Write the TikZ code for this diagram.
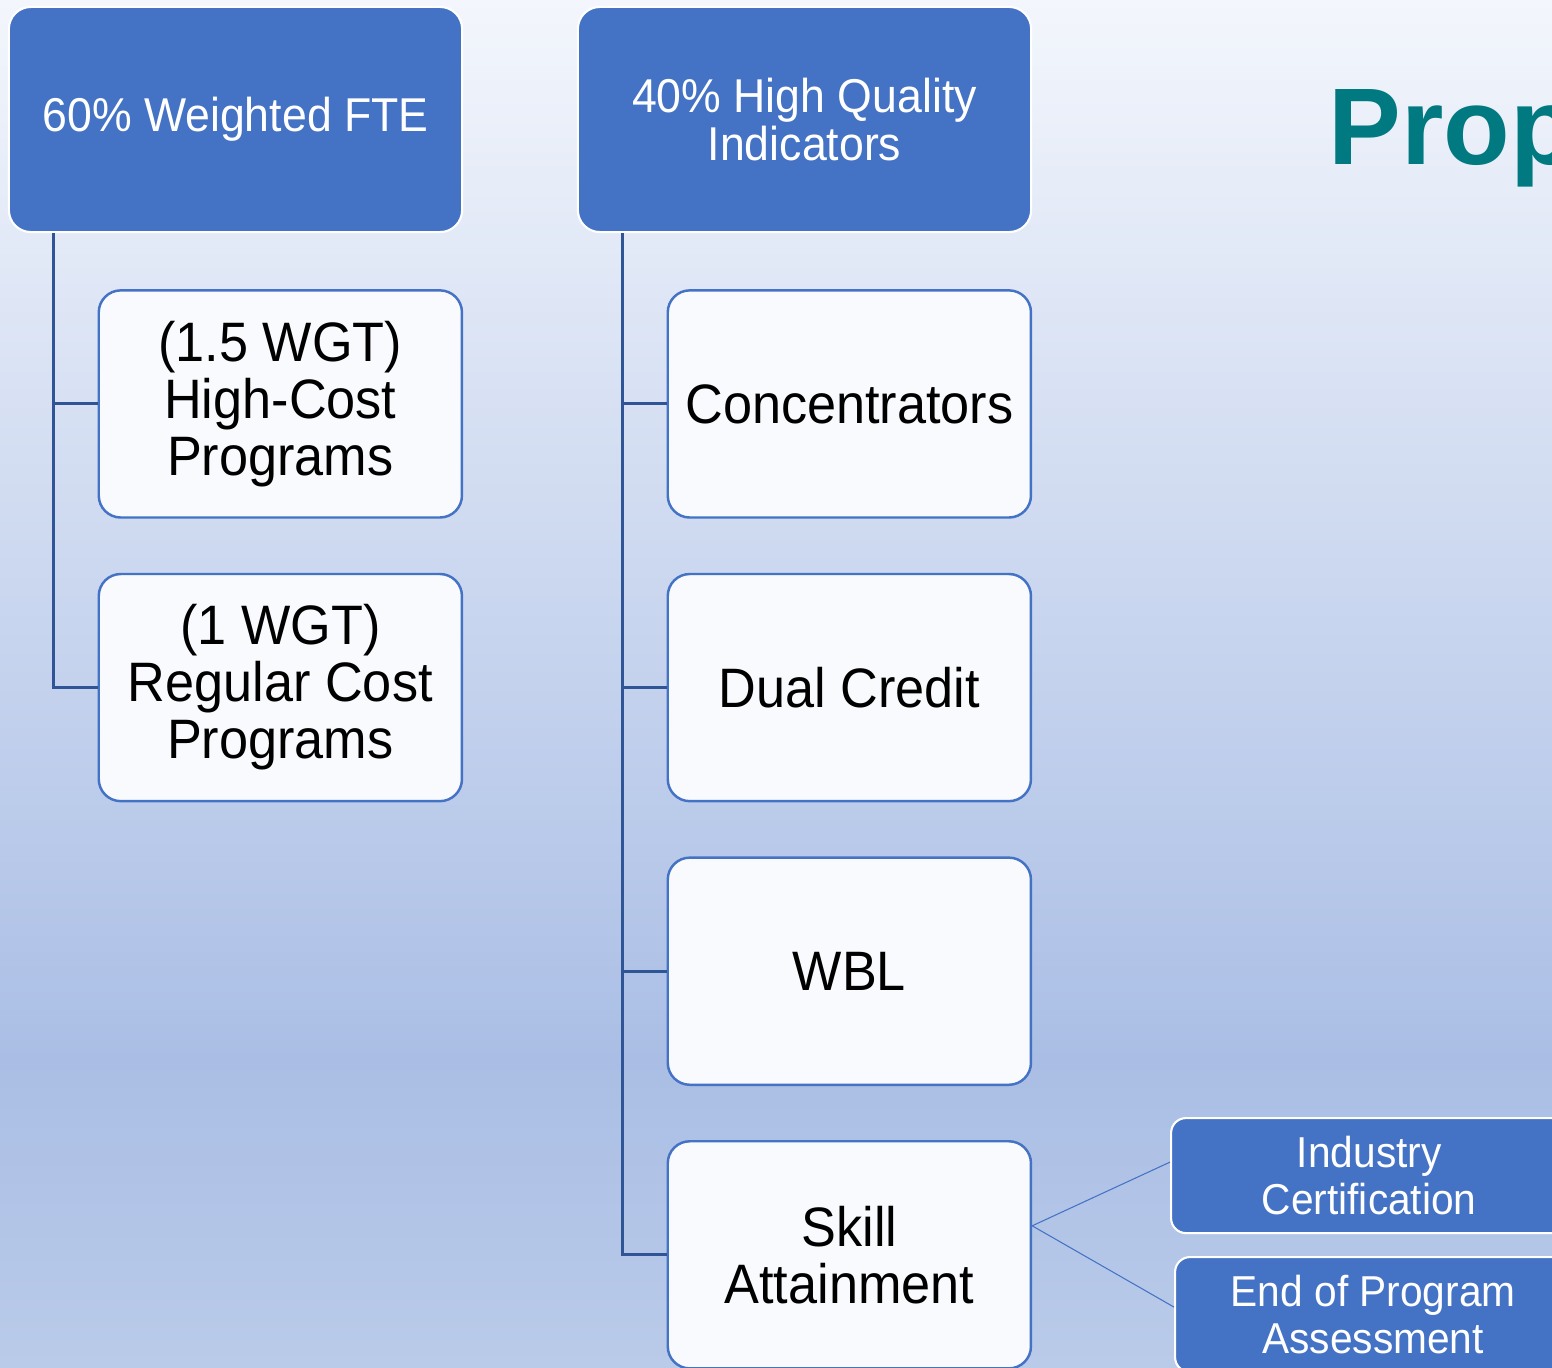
\documentclass[tikz,border=0pt]{standalone}
\usepackage{fontspec}
\setmainfont[FakeStretch=0.94]{Liberation Sans}
\newfontfamily\titlefont{Liberation Sans}
\usepackage{tikz}
\usetikzlibrary{positioning}

\definecolor{boxblue}{RGB}{68,114,196}
\definecolor{linkblue}{RGB}{47,85,151}
\definecolor{paleblue}{RGB}{248,250,253}
\definecolor{titleteal}{RGB}{0,122,128}
\definecolor{bgtop}{RGB}{243,246,252}
\definecolor{bgmid}{RGB}{170,190,229}
\definecolor{bgbot}{RGB}{186,203,233}

\begin{document}
\begin{tikzpicture}[x=0.01cm, y=-0.01cm,
        head/.style={draw=white, line width=0.6pt, fill=boxblue, rounded corners=0.22cm, text=white,
            minimum width=4.53cm, minimum height=2.25cm, align=center, inner sep=0pt,
            font=\fontsize{13.5}{13.4}\selectfont},
        item/.style={draw=boxblue, line width=0.7pt, fill=paleblue, rounded corners=0.22cm,
            minimum width=3.63cm, minimum height=2.27cm, align=center, inner sep=0pt,
            font=\fontsize{15.8}{16.2}\selectfont},
        sub/.style={draw=white, line width=0.6pt, fill=boxblue, rounded corners=0.15cm, text=white,
            minimum width=3.96cm, minimum height=1.15cm, align=center, inner sep=0pt,
            font=\fontsize{12.3}{13.6}\selectfont},
        trunk/.style={draw=linkblue, line width=0.85pt},
        twig/.style={draw=boxblue, line width=0.3pt},
        node distance=0.54cm]
        \useasboundingbox (0,0) rectangle (1552,1367);
        \clip (0,0) rectangle (1552,1367);
        % background
        \shade [top color=bgtop, bottom color=bgmid] (0,0) rectangle (1552,1060);
        \shade [top color=bgmid, bottom color=bgbot] (0,1060) rectangle (1552,1367);

        \node [anchor=base west, inner sep=0pt, text=titleteal, font=\titlefont\bfseries\fontsize{31}{31}\selectfont] (title) at (1328,165) {Prop};

        \node [head] (fte) at (235.5,119.5) {60\% Weighted FTE};
        \node [head] (hqi) at (804.5,119.5) {40\% High Quality\\Indicators};

        \node [item, below=0.56cm of fte.south east, anchor=north east] (high) {(1.5 WGT)\\High-Cost\\Programs};
        \node [item, below=of high] (reg) {(1 WGT)\\Regular Cost\\Programs};

        \node [item, below=0.56cm of hqi.south east, anchor=north east] (conc) {Concentrators};
        \node [item, below=of conc] (dual) {Dual Credit};
        \node [item, below=of dual] (wbl) {WBL};
        \node [item, below=of wbl] (skill) {Skill\\Attainment};

        \node [sub, anchor=north west] (ind) at (1170,1117) {Industry\\Certification};
        \node [sub, anchor=north west] (eop) at (1174,1256) {End of Program\\Assessment};

        \coordinate (lroot) at ([xshift=0.46cm]fte.south west);
        \coordinate (rroot) at ([xshift=0.46cm]hqi.south west);
        \coordinate (fork) at ([yshift=0.29cm]skill.east);

        \draw [trunk] (lroot) |- (high.west) (lroot) |- (reg.west);
        \draw [trunk] (rroot) |- (conc.west) (rroot) |- (dual.west)
            (rroot) |- (wbl.west) (rroot) |- (skill.west);
        \draw [twig] (fork) to ([yshift=0.135cm]ind.west);
        \draw [twig] (fork) to ([yshift=0.075cm]eop.west);
    \end{tikzpicture}
\end{document}
